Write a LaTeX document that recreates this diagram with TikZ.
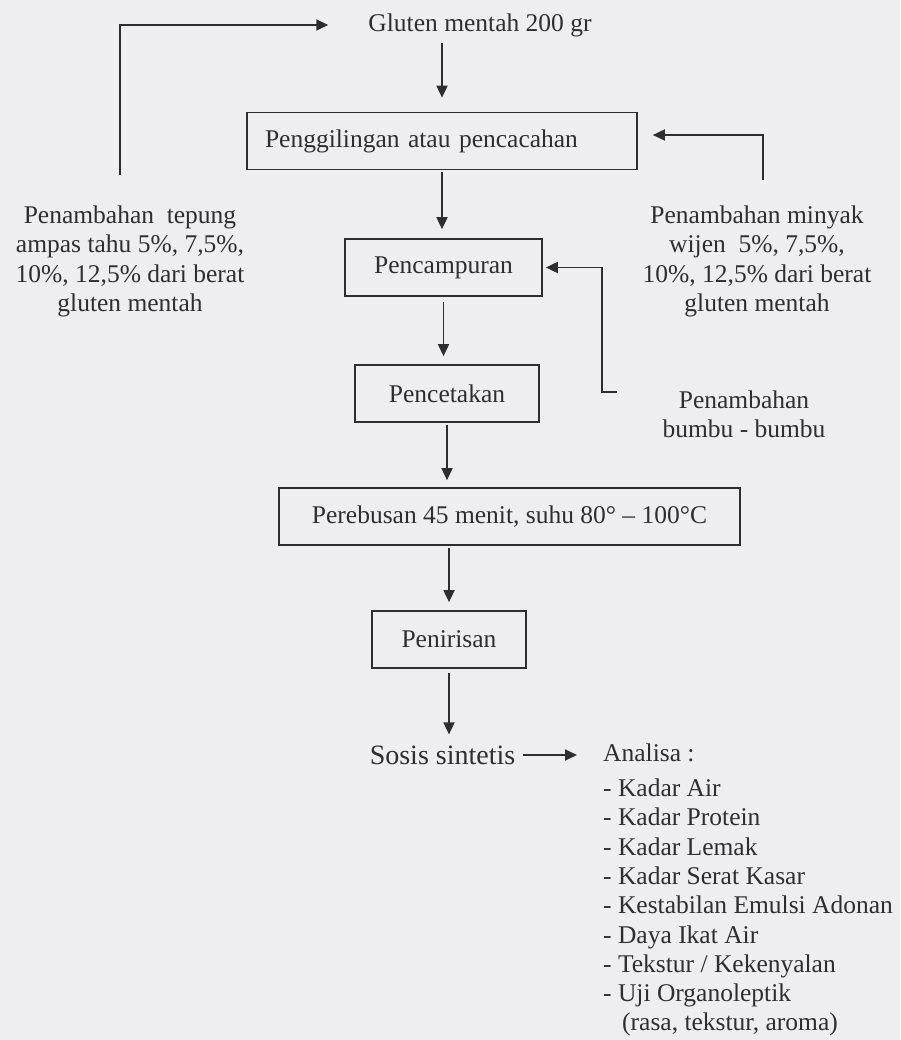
\documentclass[tikz,border=0pt]{standalone}
\usepackage{fontspec}
\setmainfont{Liberation Serif}
\usetikzlibrary{arrows.meta}
\definecolor{bg}{RGB}{238,238,242}
\definecolor{ink}{RGB}{45,45,50}
\begin{document}
\begin{tikzpicture}[x=1pt,y=-1pt,
  every node/.style={text=ink, font=\fontsize{25.5}{29.3}\selectfont},
  procbox/.style={draw=ink, line width=1.7pt, minimum height=57pt, inner sep=0pt},
  txt/.style={inner sep=0pt, align=center},
  arr/.style={draw=ink, line width=1.8pt, -{Triangle[length=12pt,width=11pt]}}]
\fill[bg] (0,0) rectangle (900,1040);
\useasboundingbox (0,0) rectangle (900,1040);

% main column
\node[txt] (gluten) at (480,25) {Gluten mentah 200 gr};
\node[procbox, text width=354pt, align=left, inner xsep=18pt] (b1) at (442,141) {Penggilingan atau pencacahan};
\node[procbox, minimum width=197pt] (b2) at (443.5,267.5) {Pencampuran};
\node[procbox, minimum width=184pt] (b3) at (447,393.5) {Pencetakan};
\node[procbox, minimum width=461pt] (b4) at (509.5,516.5) {Perebusan 45 menit, suhu 80° – 100°C};
\node[procbox, minimum width=154pt] (b5) at (449,639.5) {Penirisan};
\node[txt, font=\fontsize{28}{32}\selectfont] (sosis) at (442.5,755) {Sosis sintetis};

% side texts
\node[txt] (tepung) at (130,261.5) {Penambahan\ \ tepung\\ampas tahu 5\%, 7,5\%,\\10\%, 12,5\% dari berat\\gluten mentah};
\node[txt] (wijen) at (757,261.5) {Penambahan minyak\\wijen\ \ 5\%, 7,5\%,\\10\%, 12,5\% dari berat\\gluten mentah};
\node[txt] (bumbu) at (744,414) {Penambahan\\bumbu - bumbu};
\node[inner sep=0pt, align=left, anchor=west] (analisa) at (603,890) {Analisa :\\[6pt]- Kadar Air\\- Kadar Protein\\- Kadar Lemak\\- Kadar Serat Kasar\\- Kestabilan Emulsi Adonan\\- Daya Ikat Air\\- Tekstur / Kekenyalan\\- Uji Organoleptik\\\hspace*{19pt}(rasa, tekstur, aroma)};

% vertical flow
\draw[arr, shorten <=6pt, shorten >=14pt] (gluten.south -| b1.north) -- (b1.north);
\draw[arr, shorten <=2pt, shorten >=9pt] (b1.south) -- (b1.south |- b2.north);
\draw[arr, shorten <=5pt, shorten >=8pt] (b2.south) -- (b2.south |- b3.north);
\draw[arr, shorten <=2pt, shorten >=7pt] (b3.south) -- (b3.south |- b4.north);
\draw[arr, shorten <=2pt, shorten >=8pt] (b4.south -| b5.north) -- (b5.north);
\draw[arr, shorten <=4pt, shorten >=11pt] (b5.south) -- (b5.south |- sosis.north);

% feedback inputs
\coordinate (tl) at (120,175);
\draw[arr] (tl) |- ([xshift=-40pt]gluten.west);
\coordinate (tr) at (763,180);
\draw[arr, shorten >=15pt] (tr) |- ([yshift=6pt]b1.east);
\coordinate (bb) at (617,392);
\draw[arr, shorten >=3pt] (bb) -- ++(-15,0) |- (b2.east);

% output
\draw[arr, shorten <=8pt, shorten >=26pt] (sosis.east) -- (sosis.east -| analisa.west);
\end{tikzpicture}
\end{document}
